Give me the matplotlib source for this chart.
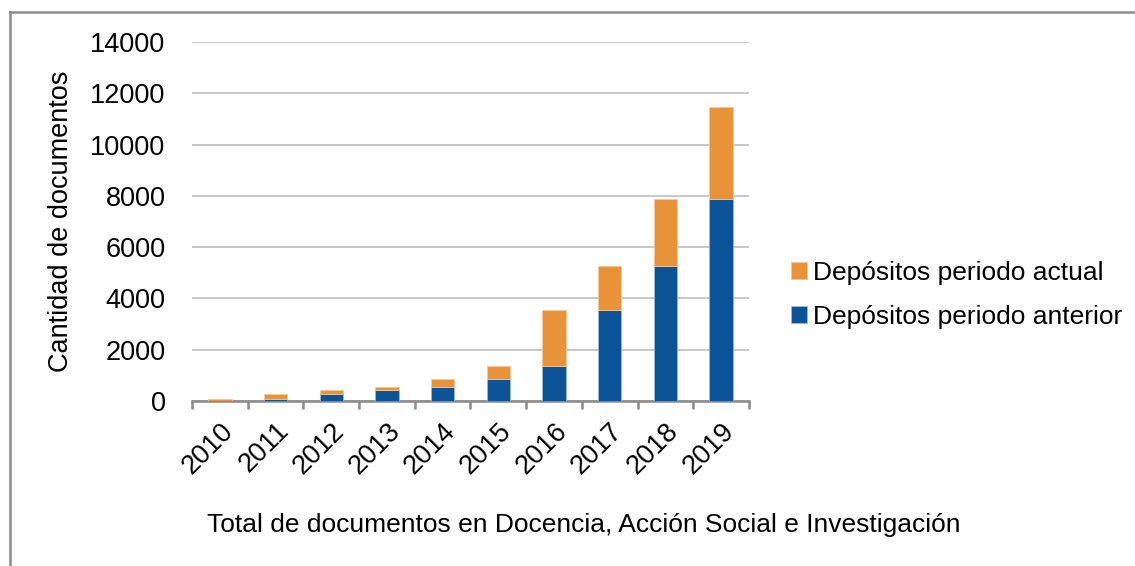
import matplotlib
matplotlib.use("Agg")
import matplotlib.pyplot as plt
from matplotlib.lines import Line2D
import numpy as np

plt.rcParams["font.family"] = ["Liberation Sans", "DejaVu Sans"]

years = ["2010", "2011", "2012", "2013", "2014", "2015", "2016", "2017", "2018", "2019"]
anterior = [0, 80, 270, 440, 560, 860, 1365, 3550, 5250, 7870]
actual = [80, 190, 170, 120, 300, 505, 2185, 1700, 2620, 3580]

BLUE = "#0d5398"
ORANGE = "#e8923a"
FS = 19.5

fig = plt.figure(figsize=(11.35, 5.66), dpi=100)
ax = fig.add_axes([192 / 1135, 1 - 401 / 566, (749 - 192) / 1135, (401 - 42) / 566])

x = np.arange(len(years))
w = 0.42
b1 = ax.bar(x, anterior, w, color=BLUE, edgecolor="#9db8d6", linewidth=0.6,
            label="Depósitos periodo anterior", zorder=3)
b2 = ax.bar(x, actual, w, bottom=anterior, color=ORANGE, edgecolor="#f3c89a", linewidth=0.6,
            label="Depósitos periodo actual", zorder=3)

ax.set_xlim(-0.5, len(years) - 0.5)
ax.set_ylim(0, 14000)
ax.set_yticks(range(0, 14001, 2000))
ax.tick_params(axis="y", length=0, pad=19, labelsize=FS)
ax.yaxis.grid(True, color="#c4c4c4", linewidth=1.3, zorder=0)
ax.set_axisbelow(True)

# tick marks at category boundaries, labels at centres
ax.set_xticks(np.arange(-0.5, len(years), 1.0))
ax.set_xticklabels([])
ax.tick_params(axis="x", which="major", length=6, width=1.8, color="#898989")
ax.set_xticks(x, minor=True)
ax.set_xticklabels(years, minor=True, rotation=45, ha="right", rotation_mode="anchor", fontsize=FS)
ax.tick_params(axis="x", which="minor", length=0, pad=12)

for s in ("top", "right", "left"):
    ax.spines[s].set_visible(False)
ax.spines["bottom"].set_color("#898989")
ax.spines["bottom"].set_linewidth(1.8)

ax.set_ylabel("Cantidad de documentos", fontsize=FS, labelpad=12)
fig.text(584 / 1135, 1 - 525 / 566, "Total de documentos en Docencia, Acción Social e Investigación",
         ha="center", va="center", fontsize=FS - 0.5)

fig.legend([b2, b1], ["Depósitos periodo actual", "Depósitos periodo anterior"],
           loc="center left", bbox_to_anchor=(767 / 1135, 1 - 295 / 566), frameon=False,
           fontsize=19, handlelength=0.6, handleheight=0.6, handletextpad=0.25, labelspacing=0.75)

# outer frame (top and left edges visible)
fig.add_artist(Line2D([10 / 1135, 10 / 1135], [0, 1 - 12 / 566], transform=fig.transFigure,
                      color="#8c8c8c", linewidth=1.8))
fig.add_artist(Line2D([10 / 1135, 1], [1 - 12 / 566, 1 - 12 / 566], transform=fig.transFigure,
                      color="#8c8c8c", linewidth=1.8))

fig.savefig("out.png", dpi=100)
